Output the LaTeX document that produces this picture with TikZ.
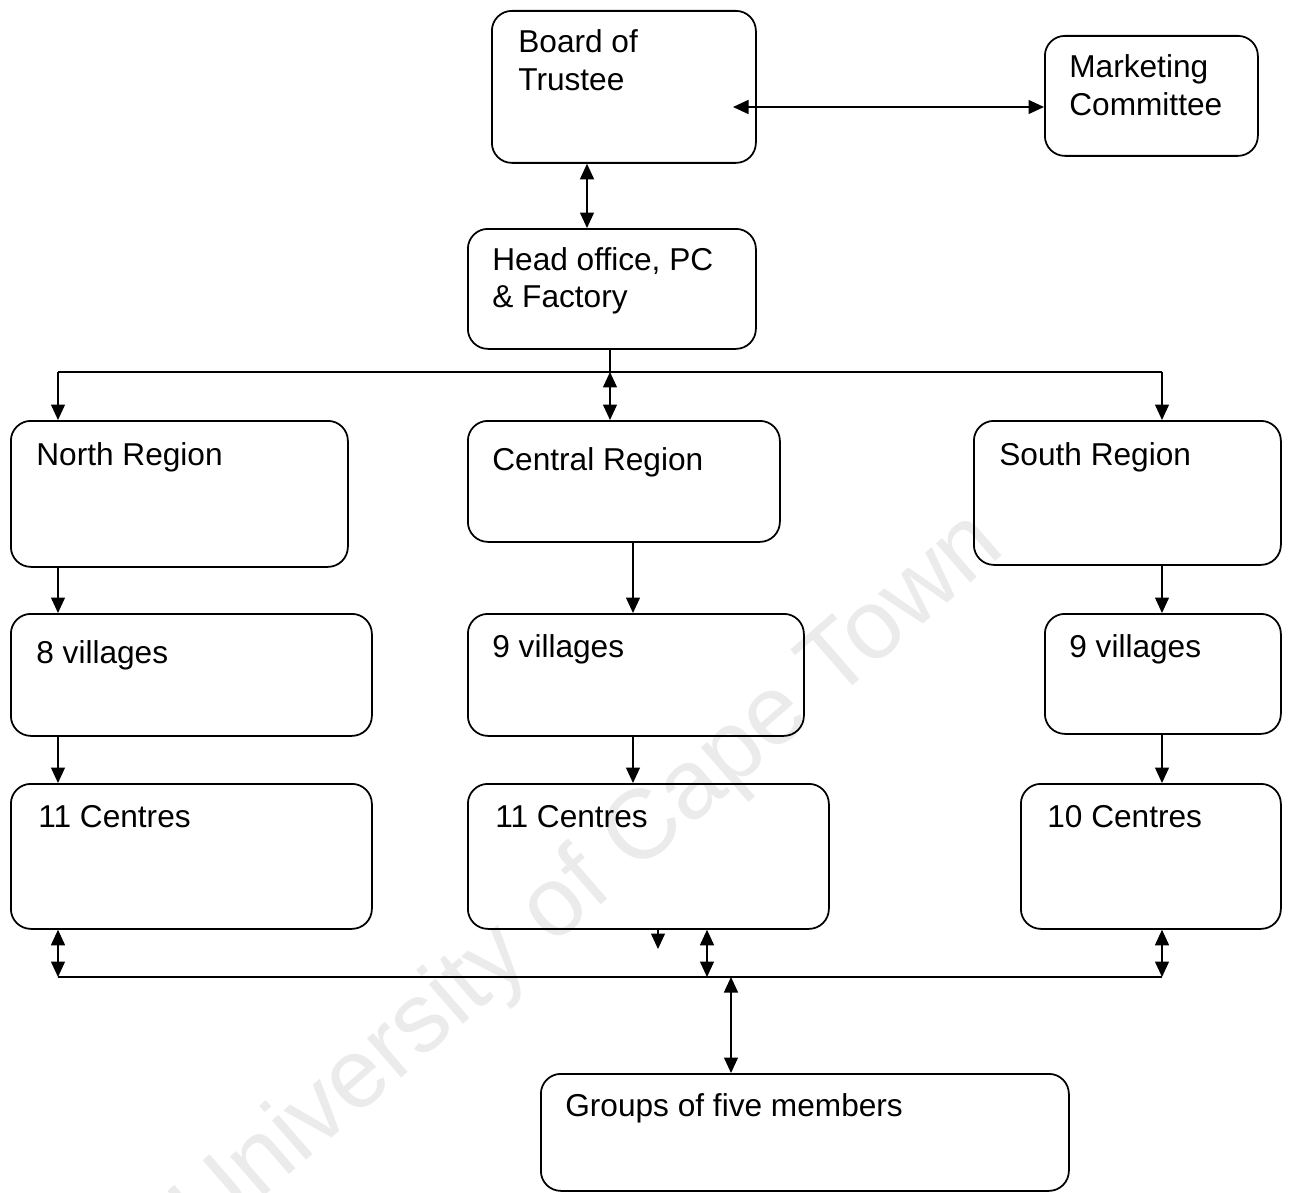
\documentclass[tikz,border=0pt]{standalone}
\usepackage{fontspec}
\setmainfont{Liberation Sans}
\usetikzlibrary{arrows.meta}
\begin{document}
\begin{tikzpicture}[x=0.02cm,y=-0.02cm,
  box/.style={draw, line width=1pt, rounded corners=0.4cm, anchor=north west, inner sep=0pt},
  lbl/.style={anchor=base west, inner sep=0pt, font=\fontsize{18}{21.6}\selectfont},
  conn/.style={line width=0.8pt},
  tip/.tip={Triangle[length=0.31cm,width=0.28cm]},
  one/.style={conn, -tip},
  two/.style={conn, tip-tip},
  wmark/.style={text=black!8, font=\fontsize{56}{60}\selectfont, rotate=41, inner sep=0pt}]
\fill[white] (0,0) rectangle (1289,1193);
\useasboundingbox (0,0) rectangle (1289,1193);
\begin{scope}
\clip (0,0) rectangle (1289,1193);
\node[wmark] (wm) at (590,880) {University of Cape Town};
\end{scope}

% boxes
\node[box, minimum width=264*0.02cm, minimum height=152*0.02cm] (board) at (491,10) {};
\node[box, minimum width=213*0.02cm, minimum height=120*0.02cm] (market) at (1044,35) {};
\node[box, minimum width=288*0.02cm, minimum height=120*0.02cm] (head) at (467,228) {};
\node[box, minimum width=337*0.02cm, minimum height=146*0.02cm] (north) at (10,420) {};
\node[box, minimum width=312*0.02cm, minimum height=121*0.02cm] (central) at (467,420) {};
\node[box, minimum width=307*0.02cm, minimum height=144*0.02cm] (south) at (973,420) {};
\node[box, minimum width=361*0.02cm, minimum height=122*0.02cm] (vN) at (10,613) {};
\node[box, minimum width=336*0.02cm, minimum height=122*0.02cm] (vC) at (467,613) {};
\node[box, minimum width=236*0.02cm, minimum height=120*0.02cm] (vS) at (1044,613) {};
\node[box, minimum width=361*0.02cm, minimum height=145*0.02cm] (cN) at (10,783) {};
\node[box, minimum width=361*0.02cm, minimum height=145*0.02cm] (cC) at (467,783) {};
\node[box, minimum width=260*0.02cm, minimum height=145*0.02cm] (cS) at (1020,783) {};
\node[box, minimum width=528*0.02cm, minimum height=117*0.02cm] (groups) at (540,1073) {};

% labels
\node[lbl] (tBoard) at (518,53) {\begin{tabular}[t]{@{}l@{}}Board of\\Trustee\end{tabular}};
\node[lbl] (tMarket) at (1069,78) {\begin{tabular}[t]{@{}l@{}}Marketing\\Committee\end{tabular}};
\node[lbl] (tHead) at (492,270) {\begin{tabular}[t]{@{}l@{}}Head office, PC\\\& Factory\end{tabular}};
\node[lbl] (tNorth) at (36,465) {North Region};
\node[lbl] (tCentral) at (492,470) {Central Region};
\node[lbl] (tSouth) at (999,465) {South Region};
\node[lbl] (tvN) at (36,663) {8 villages};
\node[lbl] (tvC) at (492,657) {9 villages};
\node[lbl] (tvS) at (1069,657) {9 villages};
\node[lbl] (tcN) at (38,827) {11 Centres};
\node[lbl] (tcC) at (495,827) {11 Centres};
\node[lbl] (tcS) at (1047,827) {10 Centres};
\node[lbl] (tGroups) at (565,1116) {Groups of five members};

% helper coordinates
\coordinate (bm) at (733,107);
\coordinate (busL) at (58,372);
\coordinate (busM) at (610,372);
\coordinate (busR) at (1162,372);
\coordinate (xC) at (633,0);
\coordinate (xB) at (587,0);
\coordinate (lowL) at (58,977);
\coordinate (lowR) at (1162,977);
\coordinate (lowM) at (707,977);
\coordinate (lowG) at (731,977);
\coordinate (stray) at (658,949);

% connectors
\draw[two] (bm) -- (market.west |- bm);
\draw[two] (xB |- board.south) -- (xB |- head.north);
\draw[conn] (busM |- head.south) -- (busM);
\draw[conn] (busL) -- (busR);
\draw[one] (busL) -- (busL |- north.north);
\draw[one] (busR) -- (busR |- south.north);
\draw[two] (busM) -- (busM |- central.north);
\draw[one] (busL |- north.south) -- (busL |- vN.north);
\draw[one] (xC |- central.south) -- (xC |- vC.north);
\draw[one] (busR |- south.south) -- (busR |- vS.north);
\draw[one] (busL |- vN.south) -- (busL |- cN.north);
\draw[one] (xC |- vC.south) -- (xC |- cC.north);
\draw[one] (busR |- vS.south) -- (busR |- cS.north);
\draw[conn] (lowL) -- (lowR);
\draw[two] (lowL |- cN.south) -- (lowL);
\draw[two] (lowM |- cC.south) -- (lowM);
\draw[two] (lowR |- cS.south) -- (lowR);
\draw[one] (stray |- cC.south) -- (stray);
\draw[two] (lowG) -- (lowG |- groups.north);
\end{tikzpicture}
\end{document}
